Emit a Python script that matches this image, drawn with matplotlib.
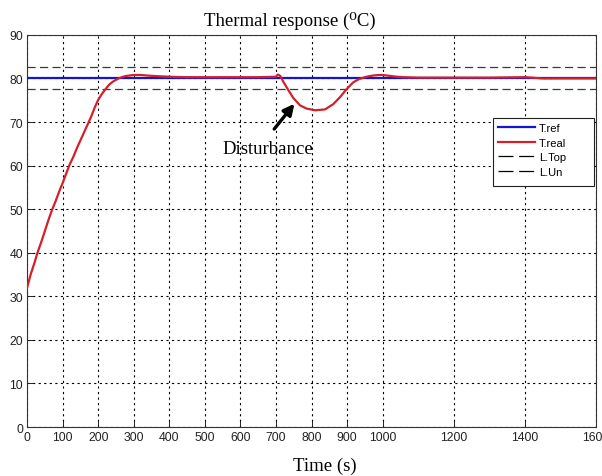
import matplotlib
matplotlib.use("Agg")
import matplotlib.pyplot as plt
from matplotlib.patches import Rectangle
from matplotlib.lines import Line2D

# ---- data ----
t_real = [0, 10, 20, 30, 40, 50, 60, 70, 80, 90, 100, 110, 120, 130, 140, 150, 160, 170, 180,
          190, 200, 210, 220, 230, 240, 250, 260, 270, 280, 300, 320, 350, 400, 450, 500, 550,
          600, 650, 700, 705, 712, 721, 735, 749, 768, 786, 810, 838, 861, 880, 898, 917, 932,
          946, 960, 975, 990, 1000, 1020, 1040, 1060, 1100, 1200, 1300, 1400, 1420, 1450, 1500, 1600]
y_real = [32, 35, 37.5, 40.2, 42.5, 45, 47.5, 49.8, 51.8, 54, 56, 58.2, 60.3, 62, 64, 65.8, 67.6, 69.4, 71.2,
          73.3, 75.1, 76.4, 77.5, 78.5, 79.2, 79.7, 80.1, 80.4, 80.6, 80.8, 80.8, 80.6, 80.4, 80.3, 80.3, 80.3,
          80.3, 80.3, 80.4, 80.9, 80.6, 79.2, 77.3, 75.5, 73.8, 73.1, 72.7, 72.9, 74.1, 75.7, 77.5, 79.1, 79.8,
          80.2, 80.5, 80.7, 80.8, 80.8, 80.6, 80.4, 80.3, 80.2, 80.2, 80.2, 80.3, 80.2, 80.0, 80.0, 80.0]
t_span = [0, 1600]
ref_val = [80, 80]
top_val = [82.6, 82.6]
un_val = [77.7, 77.7]
x_ticks = [0, 100, 200, 300, 400, 500, 600, 700, 800, 900, 1000, 1200, 1400, 1600]
y_ticks = [0, 10, 20, 30, 40, 50, 60, 70, 80, 90]
legend_labels = ["T.ref", "T.real", "L.Top", "L.Un"]

fig = plt.figure(figsize=(6.02, 4.77), dpi=100)
ax = fig.add_axes([0.045, 0.1027, 0.945, 0.822])

blue, red, dcol = "#1414d2", "#d42028", "#3a3a3a"
ax.plot(t_span, ref_val, color=blue, lw=1.6, zorder=3)
ax.plot(t_real, y_real, color=red, lw=1.6, zorder=4)
ax.plot(t_span, top_val, color=dcol, lw=0.9, dashes=(6.5, 3.5), zorder=2)
ax.plot(t_span, un_val, color=dcol, lw=0.9, dashes=(6.5, 3.5), zorder=2)

ax.set_xlim(0, 1600)
ax.set_ylim(0, 90)
ax.set_xticks(x_ticks)
ax.set_yticks(y_ticks)
ax.set_xticklabels([str(v) for v in x_ticks], fontsize=8.8, family="Liberation Sans")
ax.set_yticklabels([str(v) for v in y_ticks], fontsize=8.8, family="Liberation Sans")
ax.tick_params(direction="in", length=4, width=0.7, pad=3, colors="#222222")
ax.grid(True, color="black", linestyle=(0, (2, 3)), lw=0.8)
for s in ax.spines.values():
    s.set_linewidth(0.8)
    s.set_color("#333333")

ax.set_title("Thermal response (\u2070C)", fontsize=13.5, family=["Liberation Serif", "DejaVu Serif"],
             pad=7, x=0.462)
ax.set_xlabel("Time (s)", fontsize=13.5, family="Liberation Serif")
ax.xaxis.label.set_va("center")
ax.xaxis.set_label_coords(0.524, -0.097)

ax.text(678, 64.0, "Disturbance", fontsize=13.5, family="Liberation Serif", ha="center", va="center")
ax.annotate("", xy=(752, 74.2), xytext=(695, 68.4),
            arrowprops=dict(arrowstyle="-|>", color="black", lw=2.4, mutation_scale=16,
                            shrinkA=0, shrinkB=0))

ax.add_patch(Rectangle((0.819, 0.615), 0.1775, 0.173, transform=ax.transAxes, facecolor="white",
                       edgecolor="#222222", lw=0.8, zorder=5))
handles = [Line2D([], [], color=blue, lw=1.6),
           Line2D([], [], color=red, lw=1.6),
           Line2D([], [], color="black", lw=0.9, dashes=(12, 4.5)),
           Line2D([], [], color="black", lw=0.9, dashes=(12, 4.5))]
leg = ax.legend(handles, legend_labels, loc="upper left", bbox_to_anchor=(0.819, 0.788), frameon=False,
                prop={"family": "Liberation Sans", "size": 8}, borderpad=0.45, labelspacing=0.42,
                handlelength=3.3, handletextpad=0.4, borderaxespad=0)
leg.set_zorder(6)

fig.savefig("out.png", dpi=100)
